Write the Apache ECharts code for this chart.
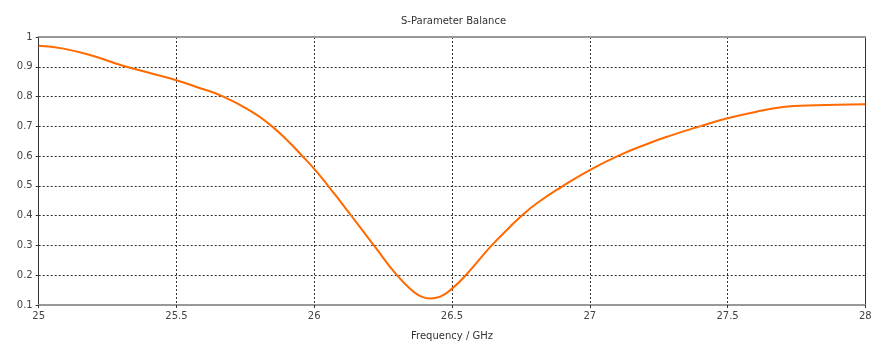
<!DOCTYPE html>
<html>
<head>
<meta charset="utf-8">
<script src="https://cdn.jsdelivr.net/npm/echarts@6/dist/echarts.min.js"></script>
<style>
  html, body { margin: 0; padding: 0; background: #fff; }
  #chart { width: 871px; height: 343px; }
</style>
</head>
<body>
<div id="chart"></div>
<script>
// Balance magnitude versus frequency
const frequencyGHz = [
  25.00, 25.09, 25.21, 25.30, 25.40, 25.50, 25.57, 25.67, 25.77, 25.84,
  25.90, 25.954, 26.00, 26.053, 26.093, 26.136, 26.178, 26.22, 26.30, 26.36,
  26.385, 26.42, 26.457, 26.50, 26.55, 26.644, 26.71, 26.753, 26.807, 26.898,
  27.00, 27.103, 27.22, 27.29, 27.40, 27.50, 27.62, 27.71, 27.79, 28.00
];
const balance = [
  0.971, 0.961, 0.933, 0.905, 0.880, 0.855, 0.833, 0.800, 0.751, 0.705,
  0.655, 0.603, 0.557, 0.497, 0.450, 0.398, 0.347, 0.296, 0.200, 0.145,
  0.130, 0.122, 0.128, 0.155, 0.200, 0.300, 0.362, 0.400, 0.441, 0.497,
  0.553, 0.601, 0.645, 0.668, 0.700, 0.727, 0.752, 0.766, 0.770, 0.774
];
const xTicks = { min: 25, max: 28, interval: 0.5 };
const yTicks = { min: 0.1, max: 1, interval: 0.1 };

const font = 'DejaVu Sans, Verdana, sans-serif';
const gridLine = { show: true, lineStyle: { color: '#333', type: [2, 2], width: 1 } };

const chart = echarts.init(document.getElementById('chart'), null, { renderer: 'canvas' });
chart.setOption({
  animation: false,
  backgroundColor: '#fff',
  title: {
    text: 'S-Parameter Balance',
    left: 396, top: 11,
    textStyle: { fontFamily: font, fontSize: 10, fontWeight: 'normal', color: '#333' }
  },
  grid: { left: 38.7, right: 5.7, top: 37, bottom: 38, outerBoundsMode: 'none', containLabel: false },
  xAxis: [{
    type: 'value', min: xTicks.min, max: xTicks.max, interval: xTicks.interval,
    position: 'bottom',
    name: 'Frequency / GHz', nameLocation: 'middle', nameGap: 26,
    nameTextStyle: { fontFamily: font, fontSize: 10, color: '#333' },
    axisLine: { show: true, onZero: false, lineStyle: { color: '#999', width: 2 } },
    axisTick: { show: true, length: 3, lineStyle: { color: '#333' } },
    axisLabel: { fontFamily: font, fontSize: 10, color: '#444', margin: 6 },
    splitLine: gridLine
  }, {
    type: 'value', min: xTicks.min, max: xTicks.max, interval: xTicks.interval,
    position: 'top',
    axisLine: { show: true, onZero: false, lineStyle: { color: '#999', width: 2 } },
    axisTick: { show: false }, axisLabel: { show: false }, splitLine: { show: false }
  }],
  yAxis: [{
    type: 'value', min: yTicks.min, max: yTicks.max, interval: yTicks.interval,
    position: 'left',
    axisLine: { show: true, onZero: false, lineStyle: { color: '#333', width: 1 } },
    axisTick: { show: true, length: 3, lineStyle: { color: '#333' } },
    axisLabel: { fontFamily: font, fontSize: 10, color: '#444', margin: 6 },
    splitLine: gridLine
  }, {
    type: 'value', min: yTicks.min, max: yTicks.max, interval: yTicks.interval,
    position: 'right',
    axisLine: { show: true, onZero: false, lineStyle: { color: '#333', width: 1 } },
    axisTick: { show: false }, axisLabel: { show: false }, splitLine: { show: false }
  }],
  series: [{
    type: 'line',
    xAxisIndex: 0, yAxisIndex: 0,
    data: frequencyGHz.map((f, i) => [f, balance[i]]),
    smooth: 0.5,
    showSymbol: false,
    lineStyle: { color: '#ff6a00', width: 2 },
    z: 5
  }]
});
</script>
</body>
</html>
